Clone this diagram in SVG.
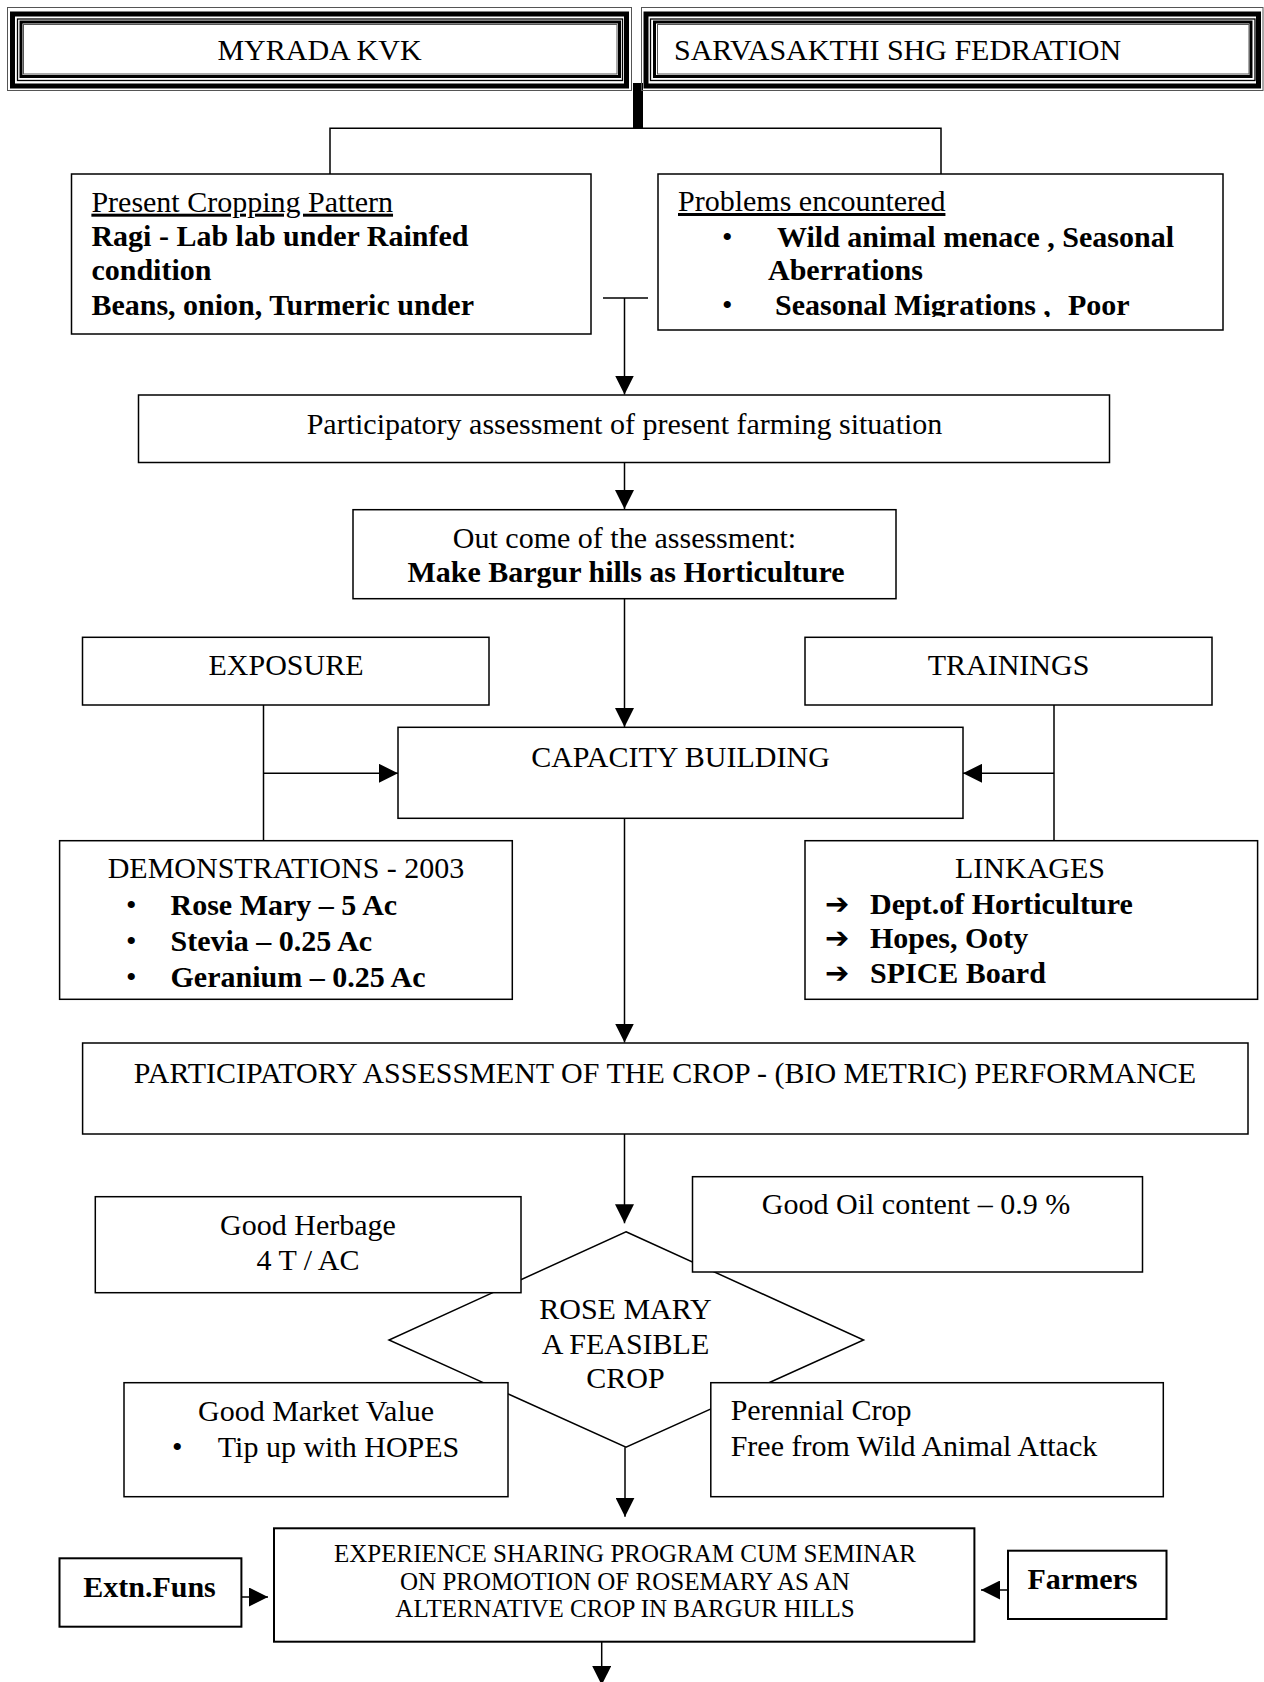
<svg xmlns="http://www.w3.org/2000/svg" width="1264" height="1682" viewBox="0 0 1264 1682">
<style>
.bx{fill:#fff;stroke:#000;stroke-width:1.5}
.bx2{fill:#fff;stroke:#000;stroke-width:2}
.ln{fill:none;stroke:#000;stroke-width:1.5}
.t{font-family:'Liberation Serif','Times New Roman',serif;font-size:30px;fill:#000}
.s{font-size:25px}
.b{font-weight:bold}
.c{text-anchor:middle}
.u{text-decoration:underline}
.ar{font-family:'DejaVu Sans',sans-serif;font-size:29px;font-weight:bold;fill:#000}
.f1{fill:none;stroke:#555;stroke-width:1}
.f2{fill:none;stroke:#000;stroke-width:5}
.f3{fill:none;stroke:#000;stroke-width:1.3}
.f4{fill:none;stroke:#000;stroke-width:3}
</style>
<defs>
<marker id="arr" viewBox="0 0 20 20" refX="20" refY="10" markerWidth="19" markerHeight="19" markerUnits="userSpaceOnUse" orient="auto"><path d="M0,0 L20,10 L0,20 z" fill="#000"/></marker>
<clipPath id="clipProb"><rect x="658" y="174" width="565" height="143"/></clipPath>
</defs>
<rect width="1264" height="1682" fill="#fff"/>

<g id="connectors">
<rect x="633" y="83" width="10" height="45.5" fill="#000"/>
<polyline class="ln" points="330,174 330,128.3 941,128.3 941,174"/>
<line class="ln" x1="603" y1="298" x2="648" y2="298"/>
<line class="ln" x1="624.5" y1="298" x2="624.5" y2="394.5" marker-end="url(#arr)"/>
<line class="ln" x1="624.5" y1="462.5" x2="624.5" y2="509" marker-end="url(#arr)"/>
<line class="ln" x1="624.5" y1="598.7" x2="624.5" y2="727" marker-end="url(#arr)"/>
<line class="ln" x1="263.5" y1="705" x2="263.5" y2="840.7"/>
<line class="ln" x1="263.5" y1="773.3" x2="398" y2="773.3" marker-end="url(#arr)"/>
<line class="ln" x1="1054" y1="705" x2="1054" y2="840.7"/>
<line class="ln" x1="1054" y1="773.3" x2="963" y2="773.3" marker-end="url(#arr)"/>
<line class="ln" x1="624.5" y1="818.3" x2="624.5" y2="1042.5" marker-end="url(#arr)"/>
<line class="ln" x1="624.5" y1="1134" x2="624.5" y2="1223.3" marker-end="url(#arr)"/>
<line class="ln" x1="625" y1="1447.3" x2="625" y2="1516.7" marker-end="url(#arr)"/>
<line class="ln" x1="241.4" y1="1597" x2="268" y2="1597" marker-end="url(#arr)"/>
<line class="ln" x1="1008" y1="1590" x2="981" y2="1590" marker-end="url(#arr)"/>
<line class="ln" x1="601.7" y1="1641.7" x2="601.7" y2="1685" marker-end="url(#arr)"/>
</g>

<g id="myrada">
<rect class="f1" x="7.5" y="7.5" width="624" height="83"/>
<rect class="f2" x="12.5" y="14" width="614" height="72"/>
<rect class="f3" x="17.5" y="19" width="605" height="61.5"/>
<rect class="f4" x="21" y="22" width="598.5" height="54.5"/>
<rect class="f1" x="23.5" y="24.5" width="593.5" height="49.5"/>
<text class="t c" x="319.5" y="60">MYRADA KVK</text>
</g>

<g id="sarvasakthi">
<rect class="f1" x="641.5" y="7.5" width="621.5" height="83"/>
<rect class="f2" x="646" y="14" width="612.5" height="72"/>
<rect class="f3" x="650.5" y="19" width="604.5" height="61.5"/>
<rect class="f4" x="654.5" y="22" width="596.5" height="54.5"/>
<rect class="f1" x="657.5" y="24.5" width="591.5" height="49.5"/>
<text class="t" x="674" y="60">SARVASAKTHI SHG FEDRATION</text>
</g>

<g id="present-cropping">
<rect class="bx" x="71.5" y="174" width="519.5" height="160"/>
<text class="t u" x="91.4" y="211.7">Present Cropping Pattern</text>
<text class="t b" x="91.4" y="246">Ragi - Lab lab under Rainfed</text>
<text class="t b" x="91.4" y="280">condition</text>
<text class="t b" x="91.4" y="315">Beans, onion, Turmeric under</text>
</g>

<g id="problems">
<rect class="bx" x="658" y="174" width="565" height="156"/>
<g clip-path="url(#clipProb)">
<text class="t u" x="678" y="211">Problems encountered</text>
<text class="t" x="722" y="246.7">•</text>
<text class="t b" x="777" y="246.7">Wild animal menace , Seasonal</text>
<text class="t b" x="768" y="280">Aberrations</text>
<text class="t" x="722" y="315">•</text>
<text class="t b" x="775" y="315">Seasonal Migrations ,<tspan x="1068">Poor</tspan></text>
</g>
</g>

<g id="participatory-farming">
<rect class="bx" x="138.5" y="395" width="971" height="67.5"/>
<text class="t c" x="624.5" y="433.5">Participatory assessment of present farming situation</text>
</g>

<g id="outcome">
<rect class="bx" x="353" y="509.7" width="543" height="89"/>
<text class="t c" x="624.5" y="548.3">Out come of the assessment:</text>
<text class="t b c" x="626" y="581.6">Make Bargur hills as Horticulture</text>
</g>

<g id="exposure">
<rect class="bx" x="82.5" y="637.3" width="406.5" height="67.7"/>
<text class="t c" x="286" y="675">EXPOSURE</text>
</g>

<g id="trainings">
<rect class="bx" x="805" y="637.3" width="407" height="67.7"/>
<text class="t c" x="1008.5" y="675">TRAININGS</text>
</g>

<g id="capacity-building">
<rect class="bx" x="398" y="727.3" width="565" height="91"/>
<text class="t c" x="680.5" y="766.7">CAPACITY BUILDING</text>
</g>

<g id="demonstrations">
<rect class="bx" x="59.6" y="840.7" width="452.7" height="158.6"/>
<text class="t c" x="286" y="878.3">DEMONSTRATIONS - 2003</text>
<text class="t" x="126" y="915">•</text>
<text class="t b" x="170.5" y="915">Rose Mary – 5 Ac</text>
<text class="t" x="126" y="951">•</text>
<text class="t b" x="170.5" y="951">Stevia – 0.25 Ac</text>
<text class="t" x="126" y="987">•</text>
<text class="t b" x="170.5" y="987">Geranium – 0.25 Ac</text>
</g>

<g id="linkages">
<rect class="bx" x="805" y="840.7" width="452.6" height="158.6"/>
<text class="t c" x="1030" y="878.3">LINKAGES</text>
<text class="ar" x="825" y="914">➔</text>
<text class="t b" x="870" y="913.5">Dept.of Horticulture</text>
<text class="ar" x="825" y="947.5">➔</text>
<text class="t b" x="870" y="947.5">Hopes, Ooty</text>
<text class="ar" x="825" y="982.5">➔</text>
<text class="t b" x="870" y="982.5">SPICE Board</text>
</g>

<g id="participatory-crop">
<rect class="bx" x="82.6" y="1043" width="1165.4" height="91"/>
<text class="t c" x="665" y="1082.7">PARTICIPATORY ASSESSMENT OF THE CROP - (BIO METRIC) PERFORMANCE</text>
</g>

<g id="rosemary-decision">
<polygon class="bx" points="626,1231.7 863.6,1340 626,1447.3 389,1340"/>
<text class="t c" x="625.5" y="1318.5">ROSE MARY</text>
<text class="t c" x="625.5" y="1353.5">A FEASIBLE</text>
<text class="t c" x="625.5" y="1387.5">CROP</text>
</g>

<g id="good-herbage">
<rect class="bx" x="95.3" y="1196.7" width="425.7" height="96"/>
<text class="t c" x="308" y="1234.5">Good Herbage</text>
<text class="t c" x="308" y="1269.5">4 T / AC</text>
</g>

<g id="good-oil">
<rect class="bx" x="692.5" y="1176.7" width="450" height="95.3"/>
<text class="t c" x="916" y="1214">Good Oil content – 0.9 %</text>
</g>

<g id="good-market">
<rect class="bx" x="124" y="1382.7" width="384" height="114"/>
<text class="t c" x="316" y="1420.5">Good Market Value</text>
<text class="t" x="172" y="1457">•</text>
<text class="t" x="217.8" y="1457">Tip up with HOPES</text>
</g>

<g id="perennial">
<rect class="bx" x="710.8" y="1382.7" width="452.5" height="114"/>
<text class="t" x="730.7" y="1420">Perennial Crop</text>
<text class="t" x="730.7" y="1455.5">Free from Wild Animal Attack</text>
</g>

<g id="experience-sharing">
<rect class="bx2" x="274" y="1528.3" width="700.4" height="113.4"/>
<text class="t s c" x="625" y="1562">EXPERIENCE SHARING PROGRAM CUM SEMINAR</text>
<text class="t s c" x="625" y="1589.5">ON PROMOTION OF ROSEMARY AS AN</text>
<text class="t s c" x="625" y="1617">ALTERNATIVE CROP IN BARGUR HILLS</text>
</g>

<g id="extn-funs">
<rect class="bx2" x="59.5" y="1558.3" width="181.9" height="68.4"/>
<text class="t b c" x="149.5" y="1596.7">Extn.Funs</text>
</g>

<g id="farmers">
<rect class="bx2" x="1008" y="1550.7" width="158.5" height="68.3"/>
<text class="t b" x="1027.5" y="1589.3">Farmers</text>
</g>
</svg>
